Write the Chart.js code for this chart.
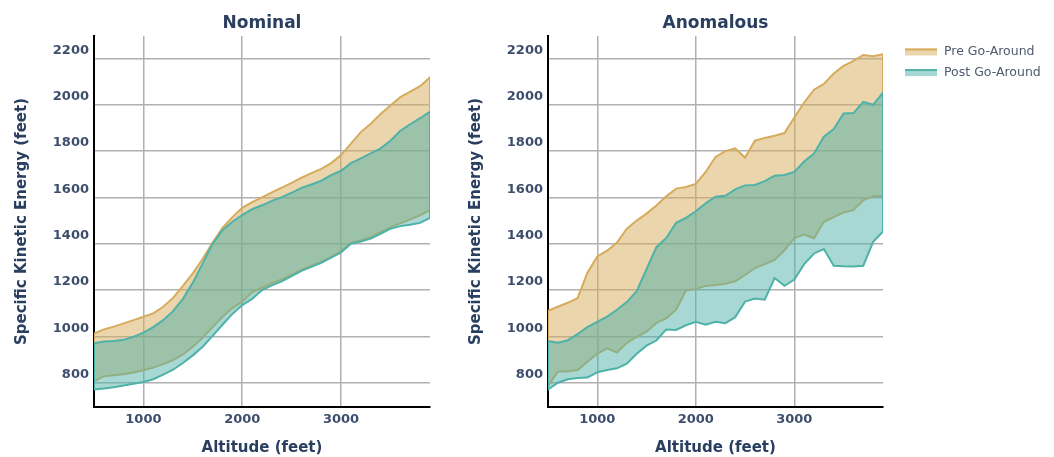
<!DOCTYPE html>
<html>
<head>
<meta charset="utf-8">
<title>Specific Kinetic Energy vs Altitude</title>
<script src="https://cdn.jsdelivr.net/npm/chart.js@4/dist/chart.umd.min.js"></script>
<style>
  html, body { margin: 0; padding: 0; background: #ffffff; }
  #wrap { position: relative; width: 1054px; height: 457px; }
  canvas { position: absolute; top: 0; }
  #nominal { left: 0; }
  #anomalous { left: 460px; }
</style>
</head>
<body>
<div id="wrap">
  <canvas id="nominal" width="460" height="457"></canvas>
  <canvas id="anomalous" width="594" height="457"></canvas>
</div>
<script>
// Altitude samples (feet)
const altitudeFt = [500, 600, 700, 800, 900, 1000, 1100, 1200, 1300, 1400, 1500, 1600, 1700, 1800,
  1900, 2000, 2100, 2200, 2300, 2400, 2500, 2600, 2700, 2800, 2900, 3000, 3100, 3200, 3300, 3400,
  3500, 3600, 3700, 3800, 3900];

// Nominal approaches: envelope of specific kinetic energy (feet)
const nominalPreHigh = [1012, 1030, 1042, 1056, 1070, 1085, 1099, 1128, 1166, 1218, 1272, 1335, 1405, 1468,
  1515, 1555, 1580, 1600, 1622, 1642, 1663, 1685, 1705, 1723, 1748, 1783, 1832, 1882, 1918, 1960,
  1997, 2033, 2057, 2080, 2118];
const nominalPreLow = [806, 828, 832, 836, 844, 854, 865, 880, 898, 922, 955, 995, 1040, 1084,
  1122, 1150, 1190, 1210, 1230, 1246, 1266, 1288, 1305, 1322, 1343, 1368, 1403, 1414, 1428, 1450,
  1472, 1488, 1505, 1523, 1545];
const nominalPostHigh = [970, 978, 980, 985, 998, 1016, 1040, 1070, 1109, 1162, 1232, 1315, 1400, 1458,
  1495, 1524, 1549, 1566, 1585, 1601, 1620, 1641, 1656, 1672, 1696, 1715, 1748, 1769, 1790, 1812,
  1845, 1888, 1916, 1942, 1970];
const nominalPostLow = [771, 775, 780, 788, 795, 803, 815, 835, 856, 885, 918, 955, 1002, 1050,
  1097, 1135, 1162, 1200, 1220, 1238, 1260, 1283, 1300, 1318, 1340, 1362, 1400, 1410, 1422, 1443,
  1465, 1476, 1482, 1490, 1512];

// Anomalous approaches
const anomalousPreHigh = [1110, 1128, 1145, 1165, 1275, 1345, 1370, 1405, 1465, 1500, 1530, 1565, 1605, 1638,
  1645, 1658, 1710, 1775, 1800, 1812, 1772, 1845, 1857, 1866, 1878, 1945, 2010, 2065, 2090, 2135,
  2168, 2190, 2215, 2210, 2218];
const anomalousPreLow = [785, 848, 848, 855, 890, 925, 948, 930, 972, 998, 1020, 1058, 1078, 1115,
  1198, 1204, 1218, 1222, 1227, 1238, 1265, 1295, 1312, 1330, 1372, 1424, 1440, 1424, 1495, 1515,
  1535, 1545, 1588, 1605, 1607];
const anomalousPostHigh = [980, 973, 983, 1010, 1040, 1063, 1085, 1115, 1148, 1195, 1290, 1385, 1425, 1490,
  1512, 1540, 1575, 1603, 1607, 1635, 1652, 1654, 1670, 1694, 1697, 1710, 1755, 1790, 1862, 1895,
  1962, 1964, 2012, 2000, 2053];
const anomalousPostLow = [770, 800, 815, 820, 822, 845, 855, 862, 882, 925, 960, 982, 1030, 1028,
  1048, 1063, 1050, 1063, 1057, 1083, 1150, 1163, 1158, 1252, 1218, 1245, 1312, 1358, 1377, 1305,
  1303, 1302, 1305, 1408, 1453];

const xTickValues = [1000, 2000, 3000];
const yTickValues = [800, 1000, 1200, 1400, 1600, 1800, 2000, 2200];
const seriesLabels = ['Pre Go-Around', 'Post Go-Around'];

const PRE_LINE = 'rgb(214, 172, 92)';
const PRE_FILL = 'rgba(214, 172, 92, 0.5)';
const POST_LINE = 'rgb(79, 178, 168)';
const POST_FILL = 'rgba(79, 178, 168, 0.5)';
const TITLE_COLOR = '#2a3f5f';
const TICK_COLOR = '#3d4e6c';
const FONT = '"DejaVu Sans", Verdana, sans-serif';

// A band is one closed outline: along the upper edge, then back along the lower edge.
function band(xs, upper, lower) {
  const pts = xs.map((x, i) => ({ x: x, y: upper[i] }));
  for (let i = xs.length - 1; i >= 0; i--) pts.push({ x: xs[i], y: lower[i] });
  pts.push({ x: xs[0], y: upper[0] });
  return pts;
}

function bandDataset(label, pts, line, fill, order) {
  return {
    label: label,
    data: pts,
    borderColor: line,
    backgroundColor: fill,
    borderWidth: 2,
    fill: 'shape',
    pointRadius: 0,
    pointHoverRadius: 0,
    tension: 0,
    order: order
  };
}

const bandLegend = {
  id: 'bandLegend',
  afterDraw(chart, args, opts) {
    if (!opts.show) return;
    const ctx = chart.ctx;
    const order = [...chart.data.datasets].sort((a, b) => b.order - a.order);
    order.forEach((ds, i) => {
      const cy = opts.y + i * opts.gap;
      ctx.save();
      ctx.fillStyle = ds.backgroundColor;
      ctx.fillRect(opts.x, cy - 3, 32, 7);
      ctx.strokeStyle = ds.borderColor;
      ctx.lineWidth = 2;
      ctx.beginPath();
      ctx.moveTo(opts.x, cy - 2);
      ctx.lineTo(opts.x + 32, cy - 2);
      ctx.stroke();
      ctx.fillStyle = '#4f5a6e';
      ctx.font = '12.5px ' + FONT;
      ctx.textBaseline = 'middle';
      ctx.textAlign = 'left';
      ctx.fillText(ds.label, opts.x + 39, cy + 0.5);
      ctx.restore();
    });
  }
};

function makeChart(canvasId, title, pre, post, layout) {
  return new Chart(document.getElementById(canvasId), {
    type: 'line',
    data: {
      datasets: [
        bandDataset(seriesLabels[1], post, POST_LINE, POST_FILL, 0),
        bandDataset(seriesLabels[0], pre, PRE_LINE, PRE_FILL, 1)
      ]
    },
    plugins: [bandLegend],
    options: {
      responsive: false,
      animation: false,
      events: [],
      layout: { padding: { left: 0, right: layout.rightPad, top: 0, bottom: 0 } },
      scales: {
        x: {
          type: 'linear',
          min: 500,
          max: 3900,
          afterBuildTicks: (s) => { s.ticks = xTickValues.map(v => ({ value: v })); },
          afterFit: (s) => { s.height = 50; },
          grid: { color: '#b0b0b0', lineWidth: 1.5, drawTicks: false },
          border: { display: true, color: '#000000', width: 2 },
          ticks: {
            padding: 5,
            color: TICK_COLOR,
            font: { family: FONT, size: 13, weight: 'bold' },
            callback: (v) => String(v)
          },
          title: {
            display: true,
            text: 'Altitude (feet)',
            color: TITLE_COLOR,
            font: { family: FONT, size: 15, weight: 'bold' },
            padding: { top: 0, bottom: 0 }
          }
        },
        y: {
          type: 'linear',
          min: 695,
          max: 2297,
          afterBuildTicks: (s) => { s.ticks = yTickValues.map(v => ({ value: v })); },
          afterFit: (s) => { s.width = layout.plotLeft; },
          grid: { color: '#b0b0b0', lineWidth: 1.5, drawTicks: false },
          border: { display: true, color: '#000000', width: 2 },
          ticks: {
            padding: 5,
            labelOffset: -8,
            color: TICK_COLOR,
            font: { family: FONT, size: 13, weight: 'bold' },
            callback: (v) => String(v)
          },
          title: {
            display: true,
            text: 'Specific Kinetic Energy (feet)',
            color: TITLE_COLOR,
            font: { family: FONT, size: 15, weight: 'bold' },
            padding: { top: layout.yTitlePad, bottom: 0 }
          }
        }
      },
      plugins: {
        legend: { display: false },
        tooltip: { enabled: false },
        title: {
          display: true,
          text: title,
          fullSize: false,
          color: TITLE_COLOR,
          font: { family: FONT, size: 17, weight: 'bold' },
          padding: { top: 13, bottom: 2.6 }
        },
        bandLegend: layout.legend
      }
    }
  });
}

makeChart('nominal', 'Nominal',
  band(altitudeFt, nominalPreHigh, nominalPreLow),
  band(altitudeFt, nominalPostHigh, nominalPostLow),
  { plotLeft: 94, rightPad: 30, yTitlePad: 13.5, legend: { show: false } });

makeChart('anomalous', 'Anomalous',
  band(altitudeFt, anomalousPreHigh, anomalousPreLow),
  band(altitudeFt, anomalousPostHigh, anomalousPostLow),
  { plotLeft: 88, rightPad: 171, yTitlePad: 7, legend: { show: true, x: 445, y: 51.5, gap: 20.6 } });
</script>
</body>
</html>
